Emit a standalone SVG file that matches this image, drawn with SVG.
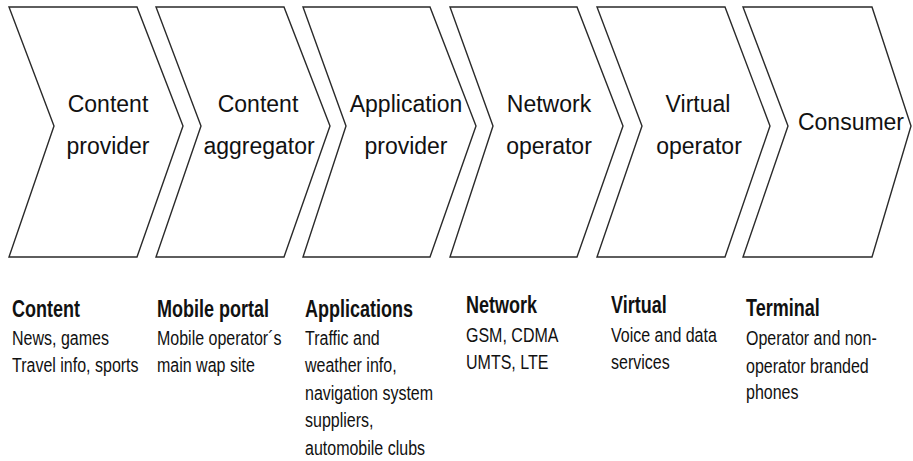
<svg xmlns="http://www.w3.org/2000/svg" width="913" height="461" viewBox="0 0 913 461">
<style>
.chev{fill:#ffffff;stroke:#2a2a2a;stroke-width:1.4;stroke-linejoin:miter}
.lbl{font-family:"Liberation Sans",Arial,sans-serif;font-size:23px;fill:#111;text-anchor:middle}
.h{font-family:"Liberation Sans",Arial,sans-serif;font-size:24px;font-weight:bold;fill:#111}
.b{font-family:"Liberation Sans",Arial,sans-serif;font-size:20px;fill:#111}
</style>
<rect x="0" y="0" width="913" height="461" fill="#ffffff"/>
<g id="content-provider">
<polygon class="chev" points="9,7 137,7 183,126 137,257 9,257 54,126"/>
<text class="lbl" x="108" y="112">Content</text>
<text class="lbl" x="108" y="154">provider</text>
</g>
<g id="content-aggregator">
<polygon class="chev" points="156,7 284,7 330,126 284,257 156,257 201,126"/>
<text class="lbl" x="258" y="112">Content</text>
<text class="lbl" x="259" y="154">aggregator</text>
</g>
<g id="application-provider">
<polygon class="chev" points="303,7 430,7 476,126 430,257 303,257 346,126"/>
<text class="lbl" x="406" y="112">Application</text>
<text class="lbl" x="406" y="154">provider</text>
</g>
<g id="network-operator">
<polygon class="chev" points="450,7 577,7 623,126 577,257 450,257 493,126"/>
<text class="lbl" x="549" y="112">Network</text>
<text class="lbl" x="549" y="154">operator</text>
</g>
<g id="virtual-operator">
<polygon class="chev" points="597,7 725,7 770,126 725,257 597,257 642,126"/>
<text class="lbl" x="698" y="112">Virtual</text>
<text class="lbl" x="699" y="154">operator</text>
</g>
<g id="consumer">
<polygon class="chev" points="743,7 872,7 911,126 872,257 743,257 788,126"/>
<text class="lbl" x="851" y="130">Consumer</text>
</g>
<g id="col-content">
<text class="h" transform="translate(12 317) scale(0.75 1)">Content</text>
<text class="b" transform="translate(12 345) scale(0.8 1)">News, games</text>
<text class="b" transform="translate(12 372) scale(0.8 1)">Travel info, sports</text>
</g>
<g id="col-portal">
<text class="h" transform="translate(157 317) scale(0.75 1)">Mobile portal</text>
<text class="b" transform="translate(157 345) scale(0.8 1)">Mobile operator´s</text>
<text class="b" transform="translate(157 372) scale(0.8 1)">main wap site</text>
</g>
<g id="col-applications">
<text class="h" transform="translate(305 317) scale(0.75 1)">Applications</text>
<text class="b" transform="translate(305 345) scale(0.8 1)">Traffic and</text>
<text class="b" transform="translate(305 372) scale(0.8 1)">weather info,</text>
<text class="b" transform="translate(305 400) scale(0.8 1)">navigation system</text>
<text class="b" transform="translate(305 427) scale(0.8 1)">suppliers,</text>
<text class="b" transform="translate(305 455) scale(0.8 1)">automobile clubs</text>
</g>
<g id="col-network">
<text class="h" transform="translate(466 313) scale(0.75 1)">Network</text>
<text class="b" transform="translate(466 342) scale(0.8 1)">GSM, CDMA</text>
<text class="b" transform="translate(466 369) scale(0.8 1)">UMTS, LTE</text>
</g>
<g id="col-virtual">
<text class="h" transform="translate(611 313) scale(0.75 1)">Virtual</text>
<text class="b" transform="translate(611 342) scale(0.8 1)">Voice and data</text>
<text class="b" transform="translate(611 369) scale(0.8 1)">services</text>
</g>
<g id="col-terminal">
<text class="h" transform="translate(746 316) scale(0.75 1)">Terminal</text>
<text class="b" transform="translate(746 345) scale(0.8 1)">Operator and non-</text>
<text class="b" transform="translate(746 373) scale(0.8 1)">operator branded</text>
<text class="b" transform="translate(746 399) scale(0.8 1)">phones</text>
</g>
</svg>
